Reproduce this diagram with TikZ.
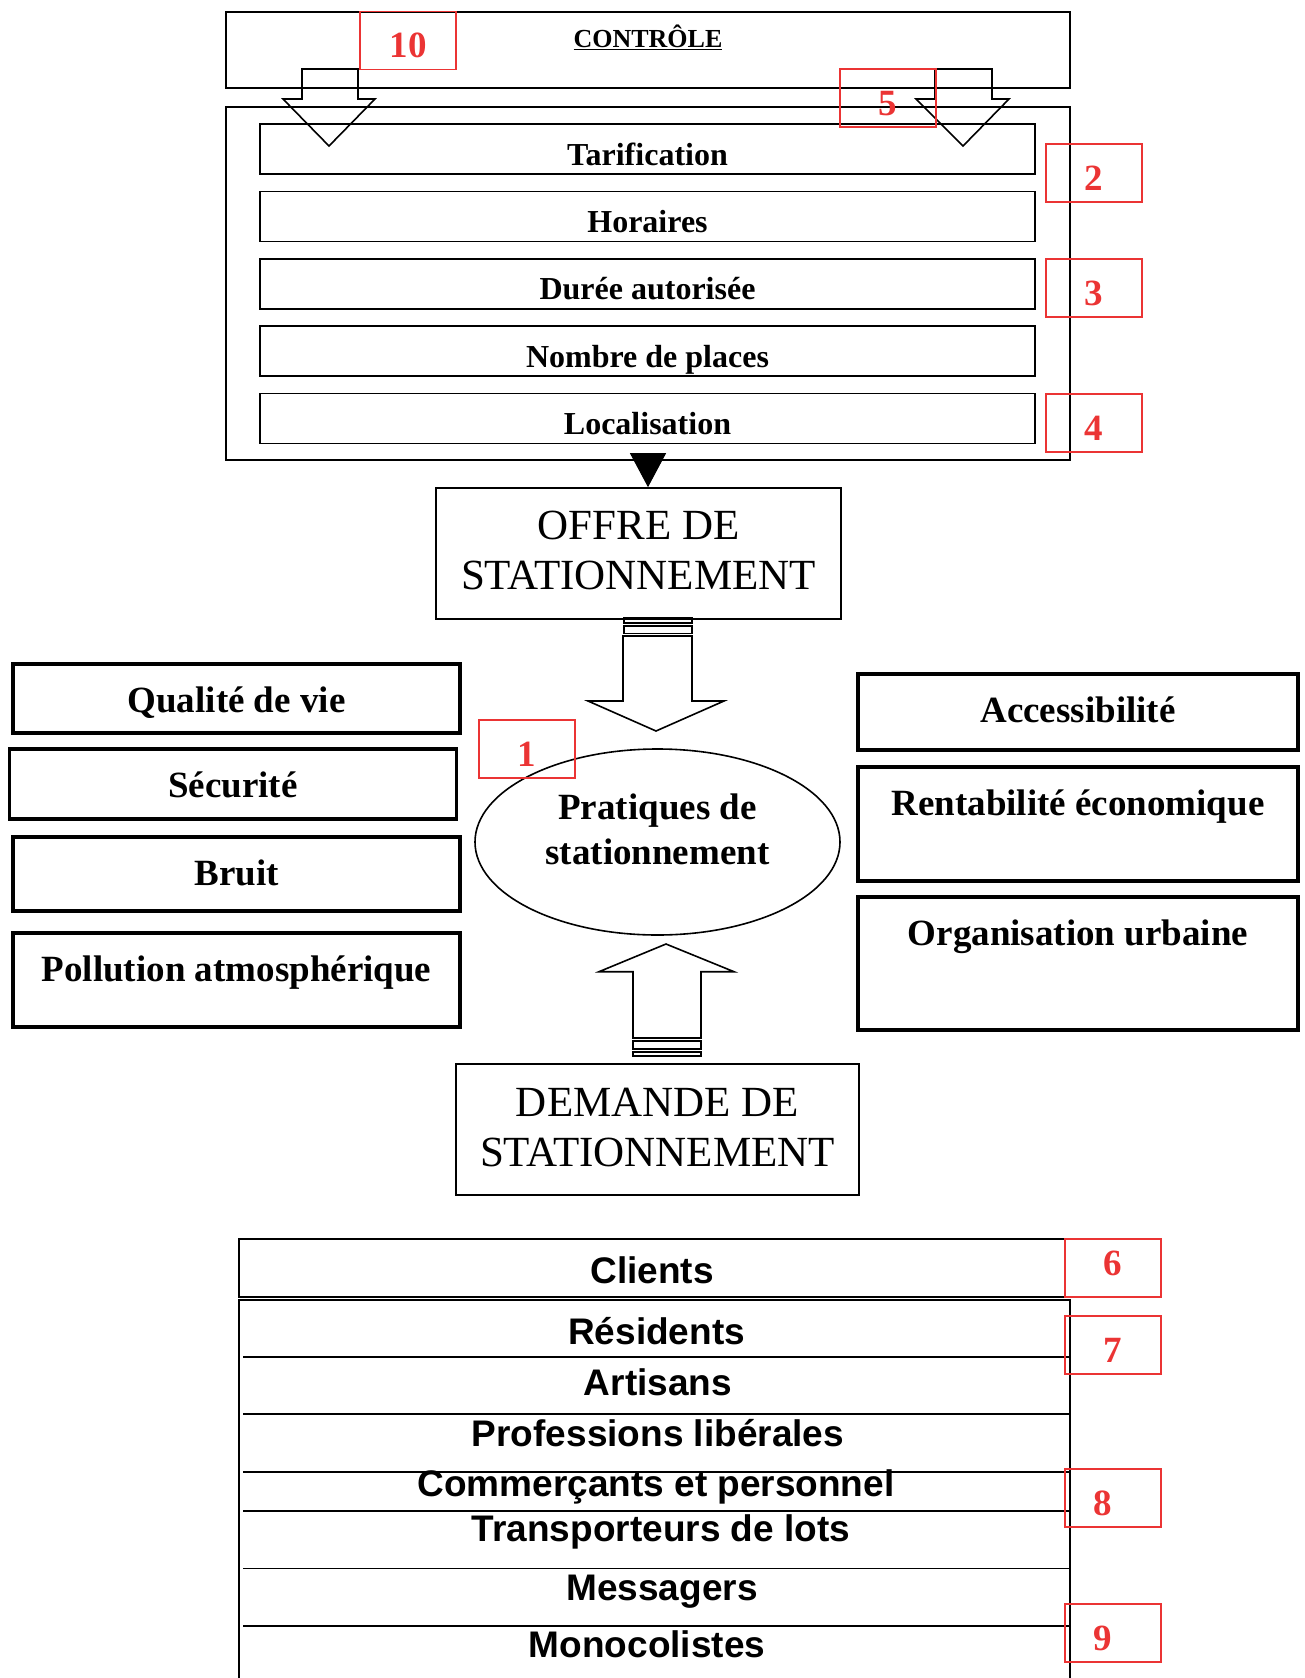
\documentclass[tikz,border=0pt]{standalone}
\usepackage{fontspec}
\setmainfont{Liberation Serif}
\newfontfamily\arialfont{Liberation Sans}
\usepackage{tikz}
\usetikzlibrary{arrows.meta, shapes.geometric}
\definecolor{numred}{RGB}{235,52,52}

\begin{document}
\begin{tikzpicture}[
  x=1pt, y=-1pt,
  every node/.style={inner sep=0pt},
  frame/.style={draw, rectangle, line width=1.6pt},
  param/.style={frame, minimum width=775pt, text height=41pt, text depth=9pt,
    font=\fontsize{32}{38}\selectfont\bfseries},
  factor/.style={draw, rectangle, line width=3.2pt, text height=48pt, text depth=#1,
    font=\fontsize{37}{44}\selectfont\bfseries},
  lfactor/.style={factor=#1, minimum width=447pt},
  rfactor/.style={factor=#1, minimum width=440pt},
  bigbox/.style={frame, align=center, font=\fontsize{43}{50}\selectfont},
  item/.style={anchor=base, font=\arialfont\fontsize{37}{44}\selectfont\bfseries},
  numbox/.style={draw=numred, line width=1.6pt, text=numred, minimum width=96pt,
    text height=46pt, text depth=12pt, font=\fontsize{37}{40}\selectfont\bfseries},
  blockarrow/.style={draw, line width=1.6pt, line join=miter}
]
  \useasboundingbox (0,0) rectangle (1304,1678);
  \clip (0,0) rectangle (1304,1678);

  % controle et leviers de l'offre
  \node[frame, minimum width=844pt, text height=36pt, text depth=40pt,
    font=\fontsize{26}{30}\selectfont\bfseries] (ctrl) at (648,50) {\underline{CONTRÔLE}};
  \node[frame, minimum width=844pt, minimum height=353pt] (params) at (648,283.5) {};
  \foreach \txt/\nm [count=\i] in {Tarification/tarif, Horaires/hor, Durée autorisée/duree,
      Nombre de places/places, Localisation/loc}
    \node[param] (\nm) at (647.5,{149+67.4*(\i-1)}) {\txt};

  \draw[blockarrow] (302,69) -- (358,69) -- (358,99) -- (375,99) -- (329,146)
    -- (283,99) -- (302,99) -- cycle;
  \draw[blockarrow] (935,69) -- (992,69) -- (992,99) -- (1009,99) -- (963,146)
    -- (916,99) -- (935,99) -- cycle;

  \node[bigbox, minimum width=405pt, text height=101pt, text depth=30pt] (offre)
    at (638.5,553.5) {OFFRE DE\\STATIONNEMENT};
  \draw[-{Triangle[length=34pt,width=36pt]}, line width=1pt, shorten <=-6pt]
    (params.south) -- (params.south |- offre.north);

  % pratiques
  \node[draw, ellipse, line width=1.6pt, minimum width=365pt, minimum height=186pt,
    text height=80pt, text depth=36pt, align=center,
    font=\fontsize{37}{45}\selectfont\bfseries] (prat) at (657.5,842) {Pratiques de\\stationnement};

  \draw[blockarrow] (624,617.7) rectangle (692,622.7);
  \draw[blockarrow] (624,625.7) rectangle (692,633.3);
  \draw[blockarrow] (623,636) -- (692,636) -- (692,701) -- (724,701) -- (656,731)
    -- (588,701) -- (623,701) -- cycle;

  \draw[blockarrow] (633,1038) -- (701,1038) -- (701,971.7) -- (734,971.7) -- (666,944)
    -- (599,971.7) -- (633,971.7) -- cycle;
  \draw[blockarrow] (633,1041) rectangle (701,1049);
  \draw[blockarrow] (633,1051.7) rectangle (701,1056);

  % enjeux
  \node[lfactor=21pt] (qualite) at (236.5,698.5) {Qualité de vie};
  \node[lfactor=22pt] (securite) at (233,784) {Sécurité};
  \node[lfactor=26pt] (bruit) at (236.5,874) {Bruit};
  \node[lfactor=46pt] (pollution) at (236.5,980) {Pollution atmosphérique};
  \node[rfactor=28pt] (access) at (1078,712) {Accessibilité};
  \node[rfactor=66pt] (rentab) at (1078,824) {Rentabilité économique};
  \node[rfactor=85pt] (organ) at (1078,963.5) {Organisation urbaine};

  \node[bigbox, minimum width=403pt, text height=102pt, text depth=29pt] (demande)
    at (657.5,1129.5) {DEMANDE DE\\STATIONNEMENT};

  % usagers
  \node[frame, line width=2.4pt, minimum width=826pt, text height=44pt, text depth=14pt,
    font=\arialfont\fontsize{37}{44}\selectfont\bfseries] (clients) at (652,1268) {Clients};
  \node[frame, minimum width=831pt, minimum height=430pt, anchor=north] (list) at (654.5,1299) {};
  \foreach \y in {1356.7,1414,1471.7,1510.7,1568.3,1626}
    \draw[line width=1.6pt] (243,\y) -- (list.east |- 0,\y);
  \foreach \txt/\nm/\x/\y in {Résidents/res/656.6/1344, Artisans/art/658/1395,
      Professions libérales/prof/658/1446.7, Commerçants et personnel/comm/656/1496.7,
      Transporteurs de lots/transp/661/1541.7, Messagers/mess/662/1600,
      Monocolistes/mono/647/1657}
    \node[item] (\nm) at (\x,\y) {\txt};

  % reperes
  \node[numbox] (n10) at (408,40.5) {10};
  \node[numbox] (n5) at (888,98) {5};
  \node[numbox] (n2) at (1094,173) {2};
  \node[numbox] (n3) at (1094,288) {3};
  \node[numbox] (n4) at (1094,423) {4};
  \node[numbox] (n1) at (527,749) {1};
  \node[numbox, text height=36pt, text depth=22pt] (n6) at (1113,1268) {6};
  \node[numbox] (n7) at (1113,1345) {7};
  \node[numbox] (n8) at (1113,1498) {\hspace*{-20pt}8};
  \node[numbox] (n9) at (1113,1633) {\hspace*{-20pt}9};
\end{tikzpicture}
\end{document}
